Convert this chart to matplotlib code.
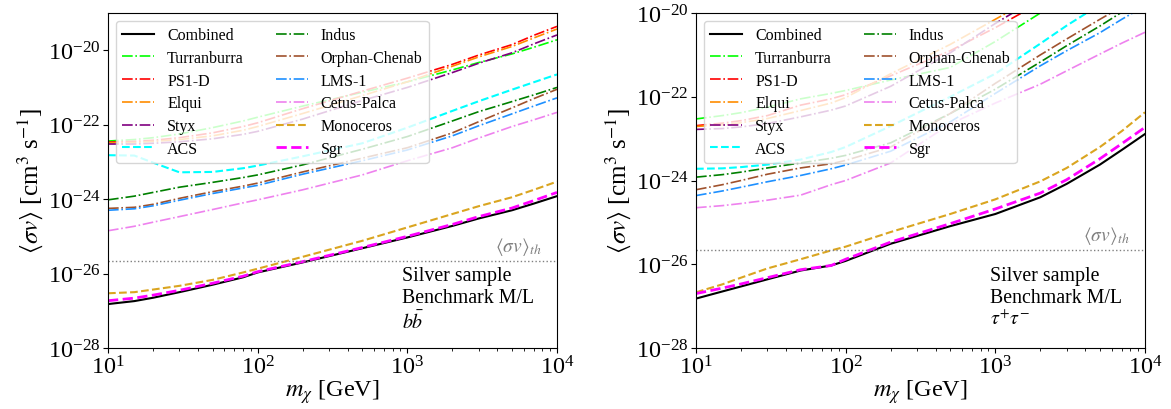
import matplotlib
matplotlib.use("Agg")
import matplotlib.pyplot as plt
import numpy as np
from matplotlib.ticker import NullLocator, FixedLocator

plt.rcParams['font.family'] = ['Liberation Serif', 'DejaVu Serif']
plt.rcParams['mathtext.fontset'] = 'stix'

# DM masses [GeV]
mass = [10, 15, 20, 30, 50, 80, 100, 200, 500, 1000, 2000, 3000, 5000, 7000, 10000]

names = ["Combined", "Turranburra", "PS1-D", "Elqui", "Styx", "ACS",
         "Indus", "Orphan-Chenab", "LMS-1", "Cetus-Palca", "Monoceros", "Sgr"]
colors = ["black", "lime", "red", "darkorange", "purple", "cyan",
          "green", "sienna", "dodgerblue", "violet", "goldenrod", "magenta"]
styles = ["-", "-.", "-.", "-.", "-.", "--", "-.", "-.", "-.", "-.", "--", "--"]
widths = [1.5, 1.2, 1.2, 1.2, 1.2, 1.5, 1.2, 1.2, 1.2, 1.2, 1.5, 2.0]

# log10 <sigma v> upper limits, b bbar channel
bb = {
    "Combined":      [-26.82, -26.74, -26.65, -26.50, -26.30, -26.10, -25.97, -25.70, -25.32, -25.03, -24.72, -24.52, -24.30, -24.12, -23.92],
    "Turranburra":   [-22.44, -22.40, -22.35, -22.25, -22.08, -21.90, -21.80, -21.50, -21.13, -20.85, -20.53, -20.33, -20.10, -19.92, -19.72],
    "PS1-D":         [-22.47, -22.45, -22.42, -22.35, -22.22, -22.05, -21.95, -21.57, -21.10, -20.75, -20.38, -20.13, -19.85, -19.60, -19.36],
    "Elqui":         [-22.49, -22.48, -22.45, -22.40, -22.30, -22.15, -22.05, -21.70, -21.22, -20.85, -20.43, -20.18, -19.90, -19.67, -19.43],
    "Styx":          [-22.52, -22.52, -22.50, -22.46, -22.38, -22.26, -22.18, -21.85, -21.35, -21.00, -20.60, -20.35, -20.07, -19.83, -19.59],
    "ACS":           [-22.82, -22.83, -23.02, -23.28, -23.27, -23.17, -23.10, -22.85, -22.50, -22.08, -21.63, -21.37, -21.06, -20.86, -20.65],
    "Indus":         [-24.02, -23.92, -23.82, -23.68, -23.55, -23.42, -23.35, -23.08, -22.66, -22.32, -21.90, -21.65, -21.38, -21.20, -21.00],
    "Orphan-Chenab": [-24.25, -24.22, -24.14, -23.98, -23.80, -23.65, -23.57, -23.27, -22.90, -22.62, -22.22, -21.92, -21.55, -21.30, -21.05],
    "LMS-1":         [-24.30, -24.26, -24.18, -24.03, -23.85, -23.70, -23.63, -23.33, -22.97, -22.68, -22.30, -22.03, -21.71, -21.50, -21.28],
    "Cetus-Palca":   [-24.85, -24.73, -24.62, -24.47, -24.28, -24.10, -24.02, -23.75, -23.35, -22.97, -22.62, -22.36, -22.05, -21.87, -21.67],
    "Monoceros":     [-26.53, -26.50, -26.43, -26.33, -26.17, -25.97, -25.87, -25.55, -25.12, -24.76, -24.40, -24.19, -23.95, -23.75, -23.53],
    "Sgr":           [-26.73, -26.66, -26.58, -26.45, -26.26, -26.07, -25.95, -25.68, -25.30, -25.00, -24.68, -24.47, -24.24, -24.04, -23.82],
}

# log10 <sigma v> upper limits, tau+ tau- channel
tautau = {
    "Combined":      [-26.82, -26.65, -26.53, -26.36, -26.15, -26.03, -25.92, -25.51, -25.09, -24.80, -24.40, -24.08, -23.62, -23.27, -22.89],
    "Turranburra":   [-22.53, -22.45, -22.38, -22.25, -22.05, -21.92, -21.85, -21.60, -21.30, -20.68, -20.00, -19.65, -19.30, -19.05, -18.80],
    "PS1-D":         [-22.69, -22.63, -22.57, -22.45, -22.20, -22.05, -21.95, -21.50, -20.90, -20.35, -19.75, -19.40, -19.00, -18.75, -18.50],
    "Elqui":         [-22.71, -22.67, -22.62, -22.52, -22.33, -22.15, -22.02, -21.45, -20.75, -20.15, -19.55, -19.20, -18.80, -18.55, -18.30],
    "Styx":          [-22.78, -22.76, -22.72, -22.64, -22.48, -22.32, -22.22, -21.75, -20.95, -20.25, -19.60, -19.25, -18.85, -18.60, -18.35],
    "ACS":           [-23.72, -23.71, -23.68, -23.62, -23.50, -23.32, -23.20, -22.70, -22.00, -21.45, -20.73, -20.30, -19.80, -19.50, -19.20],
    "Indus":         [-23.92, -23.86, -23.80, -23.70, -23.58, -23.47, -23.40, -23.10, -22.40, -21.82, -21.17, -20.78, -20.31, -19.98, -19.66],
    "Orphan-Chenab": [-24.22, -24.10, -24.00, -23.85, -23.70, -23.60, -23.52, -23.20, -22.40, -21.68, -21.00, -20.62, -20.15, -19.85, -19.55],
    "LMS-1":         [-24.36, -24.25, -24.16, -24.03, -23.88, -23.72, -23.63, -23.30, -22.60, -21.92, -21.26, -20.90, -20.47, -20.15, -19.83],
    "Cetus-Palca":   [-24.65, -24.60, -24.55, -24.47, -24.35, -24.10, -24.00, -23.58, -22.65, -22.15, -21.70, -21.38, -20.98, -20.72, -20.46],
    "Monoceros":     [-26.67, -26.48, -26.32, -26.10, -25.88, -25.67, -25.58, -25.23, -24.80, -24.45, -24.02, -23.70, -23.20, -22.82, -22.37],
    "Sgr":           [-26.70, -26.57, -26.47, -26.32, -26.13, -26.03, -25.88, -25.47, -25.03, -24.68, -24.30, -23.98, -23.48, -23.12, -22.73],
}

sv_th = 2.2e-26
channels = [r"$b\bar{b}$", r"$\tau^{+}\tau^{-}$"]
ylims = [(1e-28, 1e-19), (1e-28, 1e-20)]
yticks = [1e-28, 1e-26, 1e-24, 1e-22, 1e-20]

fig = plt.figure(figsize=(11.71, 4.10), dpi=100)
ax1 = fig.add_axes([108/1171, 61/410, 449/1171, 335/410])
ax2 = fig.add_axes([696/1171, 61/410, 449/1171, 335/410])

for ax, data, chan, ylim in zip([ax1, ax2], [bb, tautau], channels, ylims):
    for name, c, ls, lw in zip(names, colors, styles, widths):
        ax.plot(mass, 10**np.array(data[name]), color=c, ls=ls, lw=lw, label=name)
    ax.axhline(sv_th, color="gray", ls=":", lw=1.0)
    ax.text(0.965, sv_th * 1.25, r"$\langle\sigma v\rangle_{th}$", color="gray",
            fontsize=14, ha="right", va="bottom", transform=ax.get_yaxis_transform())
    ax.text(0.655, 0.245, "Silver sample\nBenchmark M/L\n" + chan, fontsize=14.3,
            ha="left", va="top", transform=ax.transAxes)
    ax.set_xscale("log")
    ax.set_yscale("log")
    ax.set_xlim(10, 1e4)
    ax.set_ylim(*ylim)
    ax.yaxis.set_major_locator(FixedLocator(yticks))
    ax.yaxis.set_minor_locator(NullLocator())
    ax.tick_params(labelsize=17.5, pad=2)
    ax.set_xlabel(r"$m_\chi$ [GeV]", fontsize=17.5, labelpad=-1)
    ax.set_ylabel(r"$\langle\sigma v\rangle$ [cm$^3$ s$^{-1}$]", fontsize=18, labelpad=2)
    ax.legend(ncol=2, loc="upper left", fontsize=11.5, labelspacing=0.42)

fig.savefig("out.png", dpi=100)
